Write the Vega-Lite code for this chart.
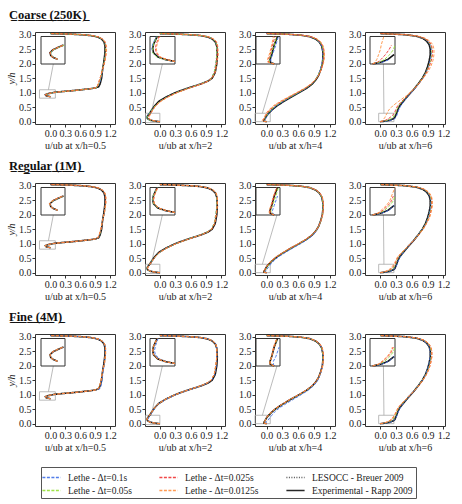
{
"$schema": "https://vega.github.io/schema/vega-lite/v6.json",
"background": "white",
"padding": {"left": 6, "top": 8, "right": 4, "bottom": 2},
"datasets": {
"zoom": [
{"p":0.5,"u":-0.22,"u1":0.1,"y":0.81,"y1":1.1},
{"p":2,"u":-0.28,"u1":0.0,"y":-0.03,"y1":0.29},
{"p":4,"u":-0.22,"u1":0.07,"y":0.0,"y1":0.29},
{"p":6,"u":-0.03,"u1":0.26,"y":0.0,"y1":0.29}
],
"conn": [
{"p":0.5,"u":-0.04,"u1":0.06,"y":1.1,"y1":2.0},
{"p":2,"u":-0.17,"u1":0.05,"y":0.29,"y1":2.0},
{"p":4,"u":-0.08,"u1":0.2,"y":0.29,"y1":2.0},
{"p":6,"u":0.07,"u1":0.06,"y":0.29,"y1":2.0}
],
"ref": [
{"p":0.5,"y":0.86,"E":0,"L":0},
{"p":0.5,"y":0.88,"E":-0.06,"L":-0.05},
{"p":0.5,"y":0.9,"E":-0.09,"L":-0.08},
{"p":0.5,"y":0.93,"E":-0.1,"L":-0.1},
{"p":0.5,"y":0.96,"E":-0.06,"L":-0.07},
{"p":0.5,"y":0.99,"E":0.02,"L":0},
{"p":0.5,"y":1.01,"E":0.08,"L":0.06},
{"p":0.5,"y":1.04,"E":0.25,"L":0.22},
{"p":0.5,"y":1.07,"E":0.45,"L":0.42},
{"p":0.5,"y":1.1,"E":0.62,"L":0.6},
{"p":0.5,"y":1.13,"E":0.78,"L":0.76},
{"p":0.5,"y":1.16,"E":0.9,"L":0.89},
{"p":0.5,"y":1.2,"E":0.97,"L":0.96},
{"p":0.5,"y":1.3,"E":1.0,"L":1.0},
{"p":0.5,"y":1.5,"E":1.03,"L":1.02},
{"p":0.5,"y":1.8,"E":1.05,"L":1.05},
{"p":0.5,"y":2.1,"E":1.08,"L":1.08},
{"p":0.5,"y":2.4,"E":1.1,"L":1.1},
{"p":0.5,"y":2.6,"E":1.1,"L":1.1},
{"p":0.5,"y":2.75,"E":1.08,"L":1.08},
{"p":0.5,"y":2.85,"E":1.03,"L":1.04},
{"p":0.5,"y":2.92,"E":0.95,"L":0.96},
{"p":0.5,"y":2.97,"E":0.8,"L":0.82},
{"p":0.5,"y":3.0,"E":0.6,"L":0.62},
{"p":0.5,"y":3.02,"E":0.35,"L":0.36},
{"p":0.5,"y":3.036,"E":0,"L":0},
{"p":2,"y":0,"E":0,"L":0},
{"p":2,"y":0.02,"E":-0.1,"L":-0.1},
{"p":2,"y":0.05,"E":-0.19,"L":-0.18},
{"p":2,"y":0.1,"E":-0.24,"L":-0.23},
{"p":2,"y":0.15,"E":-0.25,"L":-0.24},
{"p":2,"y":0.2,"E":-0.24,"L":-0.23},
{"p":2,"y":0.29,"E":-0.2,"L":-0.19},
{"p":2,"y":0.4,"E":-0.16,"L":-0.15},
{"p":2,"y":0.55,"E":-0.1,"L":-0.09},
{"p":2,"y":0.7,"E":-0.02,"L":-0.01},
{"p":2,"y":0.85,"E":0.12,"L":0.13},
{"p":2,"y":1.0,"E":0.3,"L":0.31},
{"p":2,"y":1.1,"E":0.45,"L":0.46},
{"p":2,"y":1.2,"E":0.62,"L":0.62},
{"p":2,"y":1.3,"E":0.8,"L":0.79},
{"p":2,"y":1.4,"E":0.94,"L":0.93},
{"p":2,"y":1.5,"E":1.02,"L":1.01},
{"p":2,"y":1.7,"E":1.08,"L":1.08},
{"p":2,"y":2.0,"E":1.11,"L":1.1},
{"p":2,"y":2.3,"E":1.12,"L":1.11},
{"p":2,"y":2.6,"E":1.11,"L":1.11},
{"p":2,"y":2.75,"E":1.08,"L":1.08},
{"p":2,"y":2.85,"E":1.02,"L":1.03},
{"p":2,"y":2.92,"E":0.93,"L":0.94},
{"p":2,"y":2.97,"E":0.78,"L":0.79},
{"p":2,"y":3.0,"E":0.55,"L":0.56},
{"p":2,"y":3.02,"E":0.3,"L":0.31},
{"p":2,"y":3.036,"E":0,"L":0},
{"p":4,"y":0,"E":0,"L":0},
{"p":4,"y":0.02,"E":-0.05,"L":-0.05},
{"p":4,"y":0.05,"E":-0.05,"L":-0.05},
{"p":4,"y":0.1,"E":-0.03,"L":-0.03},
{"p":4,"y":0.2,"E":0.0,"L":0.0},
{"p":4,"y":0.29,"E":0.04,"L":0.03},
{"p":4,"y":0.4,"E":0.1,"L":0.09},
{"p":4,"y":0.55,"E":0.2,"L":0.19},
{"p":4,"y":0.7,"E":0.33,"L":0.32},
{"p":4,"y":0.85,"E":0.47,"L":0.46},
{"p":4,"y":1.0,"E":0.62,"L":0.61},
{"p":4,"y":1.15,"E":0.76,"L":0.75},
{"p":4,"y":1.3,"E":0.87,"L":0.86},
{"p":4,"y":1.45,"E":0.94,"L":0.94},
{"p":4,"y":1.6,"E":0.99,"L":0.99},
{"p":4,"y":1.8,"E":1.03,"L":1.03},
{"p":4,"y":2.0,"E":1.06,"L":1.06},
{"p":4,"y":2.2,"E":1.07,"L":1.07},
{"p":4,"y":2.4,"E":1.07,"L":1.07},
{"p":4,"y":2.6,"E":1.05,"L":1.05},
{"p":4,"y":2.75,"E":1.0,"L":1.0},
{"p":4,"y":2.85,"E":0.93,"L":0.94},
{"p":4,"y":2.93,"E":0.82,"L":0.83},
{"p":4,"y":2.98,"E":0.65,"L":0.66},
{"p":4,"y":3.01,"E":0.42,"L":0.43},
{"p":4,"y":3.036,"E":0,"L":0},
{"p":6,"y":0,"E":0,"L":0},
{"p":6,"y":0.02,"E":0.1,"L":0.09},
{"p":6,"y":0.05,"E":0.18,"L":0.17},
{"p":6,"y":0.1,"E":0.25,"L":0.24},
{"p":6,"y":0.15,"E":0.28,"L":0.27},
{"p":6,"y":0.2,"E":0.29,"L":0.29},
{"p":6,"y":0.29,"E":0.31,"L":0.31},
{"p":6,"y":0.4,"E":0.33,"L":0.33},
{"p":6,"y":0.55,"E":0.37,"L":0.37},
{"p":6,"y":0.7,"E":0.44,"L":0.43},
{"p":6,"y":0.9,"E":0.53,"L":0.53},
{"p":6,"y":1.1,"E":0.63,"L":0.63},
{"p":6,"y":1.3,"E":0.72,"L":0.72},
{"p":6,"y":1.5,"E":0.8,"L":0.8},
{"p":6,"y":1.7,"E":0.86,"L":0.86},
{"p":6,"y":1.9,"E":0.9,"L":0.9},
{"p":6,"y":2.1,"E":0.93,"L":0.93},
{"p":6,"y":2.3,"E":0.95,"L":0.95},
{"p":6,"y":2.5,"E":0.95,"L":0.95},
{"p":6,"y":2.65,"E":0.93,"L":0.93},
{"p":6,"y":2.78,"E":0.88,"L":0.88},
{"p":6,"y":2.88,"E":0.8,"L":0.81},
{"p":6,"y":2.95,"E":0.68,"L":0.69},
{"p":6,"y":3.0,"E":0.45,"L":0.46},
{"p":6,"y":3.036,"E":0,"L":0}
],
"lethe": [
{"m":"C","p":0.5,"y":0.86,"a":0,"b":0,"c":0,"d":0},
{"m":"C","p":0.5,"y":0.88,"a":-0.05,"b":-0.05,"c":-0.06,"d":-0.06},
{"m":"C","p":0.5,"y":0.9,"a":-0.08,"b":-0.08,"c":-0.09,"d":-0.09},
{"m":"C","p":0.5,"y":0.93,"a":-0.09,"b":-0.09,"c":-0.1,"d":-0.1},
{"m":"C","p":0.5,"y":0.96,"a":-0.05,"b":-0.05,"c":-0.06,"d":-0.06},
{"m":"C","p":0.5,"y":0.99,"a":0.03,"b":0.03,"c":0.02,"d":0.02},
{"m":"C","p":0.5,"y":1.01,"a":0.1,"b":0.1,"c":0.09,"d":0.08},
{"m":"C","p":0.5,"y":1.04,"a":0.28,"b":0.27,"c":0.26,"d":0.26},
{"m":"C","p":0.5,"y":1.07,"a":0.48,"b":0.47,"c":0.46,"d":0.46},
{"m":"C","p":0.5,"y":1.1,"a":0.65,"b":0.64,"c":0.63,"d":0.63},
{"m":"C","p":0.5,"y":1.13,"a":0.8,"b":0.79,"c":0.79,"d":0.78},
{"m":"C","p":0.5,"y":1.16,"a":0.9,"b":0.9,"c":0.9,"d":0.9},
{"m":"C","p":0.5,"y":1.2,"a":0.95,"b":0.95,"c":0.94,"d":0.94},
{"m":"C","p":0.5,"y":1.3,"a":0.98,"b":0.97,"c":0.96,"d":0.96},
{"m":"C","p":0.5,"y":1.5,"a":1.02,"b":1.01,"c":1.0,"d":1.0},
{"m":"C","p":0.5,"y":1.8,"a":1.06,"b":1.05,"c":1.05,"d":1.05},
{"m":"C","p":0.5,"y":2.1,"a":1.09,"b":1.09,"c":1.1,"d":1.1},
{"m":"C","p":0.5,"y":2.4,"a":1.11,"b":1.11,"c":1.12,"d":1.13},
{"m":"C","p":0.5,"y":2.6,"a":1.11,"b":1.11,"c":1.12,"d":1.13},
{"m":"C","p":0.5,"y":2.75,"a":1.09,"b":1.09,"c":1.1,"d":1.1},
{"m":"C","p":0.5,"y":2.85,"a":1.04,"b":1.04,"c":1.05,"d":1.05},
{"m":"C","p":0.5,"y":2.92,"a":0.96,"b":0.96,"c":0.97,"d":0.97},
{"m":"C","p":0.5,"y":2.97,"a":0.82,"b":0.82,"c":0.83,"d":0.83},
{"m":"C","p":0.5,"y":3.0,"a":0.62,"b":0.62,"c":0.63,"d":0.63},
{"m":"C","p":0.5,"y":3.02,"a":0.36,"b":0.36,"c":0.37,"d":0.37},
{"m":"C","p":0.5,"y":3.036,"a":0,"b":0,"c":0,"d":0},
{"m":"R","p":0.5,"y":0.86,"a":0,"b":0,"c":0,"d":0},
{"m":"R","p":0.5,"y":0.88,"a":-0.06,"b":-0.06,"c":-0.06,"d":-0.06},
{"m":"R","p":0.5,"y":0.9,"a":-0.09,"b":-0.09,"c":-0.09,"d":-0.09},
{"m":"R","p":0.5,"y":0.93,"a":-0.1,"b":-0.1,"c":-0.1,"d":-0.11},
{"m":"R","p":0.5,"y":0.96,"a":-0.06,"b":-0.06,"c":-0.07,"d":-0.07},
{"m":"R","p":0.5,"y":0.99,"a":0.02,"b":0.02,"c":0.01,"d":0.01},
{"m":"R","p":0.5,"y":1.01,"a":0.09,"b":0.09,"c":0.08,"d":0.08},
{"m":"R","p":0.5,"y":1.04,"a":0.26,"b":0.26,"c":0.25,"d":0.25},
{"m":"R","p":0.5,"y":1.07,"a":0.46,"b":0.46,"c":0.45,"d":0.45},
{"m":"R","p":0.5,"y":1.1,"a":0.63,"b":0.63,"c":0.62,"d":0.62},
{"m":"R","p":0.5,"y":1.13,"a":0.79,"b":0.79,"c":0.78,"d":0.78},
{"m":"R","p":0.5,"y":1.16,"a":0.9,"b":0.9,"c":0.9,"d":0.9},
{"m":"R","p":0.5,"y":1.2,"a":0.96,"b":0.96,"c":0.96,"d":0.95},
{"m":"R","p":0.5,"y":1.3,"a":0.99,"b":0.99,"c":0.98,"d":0.98},
{"m":"R","p":0.5,"y":1.5,"a":1.02,"b":1.02,"c":1.02,"d":1.01},
{"m":"R","p":0.5,"y":1.8,"a":1.05,"b":1.05,"c":1.05,"d":1.05},
{"m":"R","p":0.5,"y":2.1,"a":1.09,"b":1.09,"c":1.09,"d":1.09},
{"m":"R","p":0.5,"y":2.4,"a":1.11,"b":1.11,"c":1.11,"d":1.12},
{"m":"R","p":0.5,"y":2.6,"a":1.11,"b":1.11,"c":1.11,"d":1.12},
{"m":"R","p":0.5,"y":2.75,"a":1.09,"b":1.09,"c":1.09,"d":1.1},
{"m":"R","p":0.5,"y":2.85,"a":1.04,"b":1.04,"c":1.04,"d":1.05},
{"m":"R","p":0.5,"y":2.92,"a":0.96,"b":0.96,"c":0.96,"d":0.97},
{"m":"R","p":0.5,"y":2.97,"a":0.82,"b":0.82,"c":0.82,"d":0.83},
{"m":"R","p":0.5,"y":3.0,"a":0.62,"b":0.62,"c":0.62,"d":0.63},
{"m":"R","p":0.5,"y":3.02,"a":0.36,"b":0.36,"c":0.36,"d":0.37},
{"m":"R","p":0.5,"y":3.036,"a":0,"b":0,"c":0,"d":0},
{"m":"F","p":0.5,"y":0.86,"a":0,"b":0,"c":0,"d":0},
{"m":"F","p":0.5,"y":0.88,"a":-0.06,"b":-0.06,"c":-0.06,"d":-0.06},
{"m":"F","p":0.5,"y":0.9,"a":-0.09,"b":-0.09,"c":-0.09,"d":-0.09},
{"m":"F","p":0.5,"y":0.93,"a":-0.1,"b":-0.1,"c":-0.1,"d":-0.1},
{"m":"F","p":0.5,"y":0.96,"a":-0.06,"b":-0.06,"c":-0.06,"d":-0.07},
{"m":"F","p":0.5,"y":0.99,"a":0.02,"b":0.02,"c":0.02,"d":0.01},
{"m":"F","p":0.5,"y":1.01,"a":0.09,"b":0.08,"c":0.08,"d":0.08},
{"m":"F","p":0.5,"y":1.04,"a":0.27,"b":0.26,"c":0.26,"d":0.25},
{"m":"F","p":0.5,"y":1.07,"a":0.47,"b":0.46,"c":0.46,"d":0.45},
{"m":"F","p":0.5,"y":1.1,"a":0.64,"b":0.63,"c":0.63,"d":0.62},
{"m":"F","p":0.5,"y":1.13,"a":0.8,"b":0.79,"c":0.79,"d":0.78},
{"m":"F","p":0.5,"y":1.16,"a":0.92,"b":0.9,"c":0.9,"d":0.9},
{"m":"F","p":0.5,"y":1.2,"a":0.99,"b":0.96,"c":0.96,"d":0.96},
{"m":"F","p":0.5,"y":1.3,"a":1.02,"b":0.99,"c":0.99,"d":0.99},
{"m":"F","p":0.5,"y":1.5,"a":1.04,"b":1.02,"c":1.02,"d":1.02},
{"m":"F","p":0.5,"y":1.8,"a":1.06,"b":1.05,"c":1.05,"d":1.05},
{"m":"F","p":0.5,"y":2.1,"a":1.09,"b":1.09,"c":1.09,"d":1.09},
{"m":"F","p":0.5,"y":2.4,"a":1.11,"b":1.11,"c":1.11,"d":1.11},
{"m":"F","p":0.5,"y":2.6,"a":1.11,"b":1.11,"c":1.11,"d":1.11},
{"m":"F","p":0.5,"y":2.75,"a":1.09,"b":1.09,"c":1.09,"d":1.09},
{"m":"F","p":0.5,"y":2.85,"a":1.04,"b":1.04,"c":1.04,"d":1.04},
{"m":"F","p":0.5,"y":2.92,"a":0.96,"b":0.96,"c":0.96,"d":0.96},
{"m":"F","p":0.5,"y":2.97,"a":0.82,"b":0.82,"c":0.82,"d":0.82},
{"m":"F","p":0.5,"y":3.0,"a":0.62,"b":0.62,"c":0.62,"d":0.62},
{"m":"F","p":0.5,"y":3.02,"a":0.36,"b":0.36,"c":0.36,"d":0.36},
{"m":"F","p":0.5,"y":3.036,"a":0,"b":0,"c":0,"d":0},
{"m":"C","p":2,"y":0,"a":0,"b":0,"c":0,"d":0},
{"m":"C","p":2,"y":0.02,"a":-0.11,"b":-0.11,"c":-0.09,"d":-0.08},
{"m":"C","p":2,"y":0.05,"a":-0.2,"b":-0.2,"c":-0.17,"d":-0.16},
{"m":"C","p":2,"y":0.1,"a":-0.25,"b":-0.25,"c":-0.21,"d":-0.2},
{"m":"C","p":2,"y":0.15,"a":-0.26,"b":-0.25,"c":-0.22,"d":-0.21},
{"m":"C","p":2,"y":0.2,"a":-0.25,"b":-0.24,"c":-0.21,"d":-0.2},
{"m":"C","p":2,"y":0.29,"a":-0.21,"b":-0.2,"c":-0.18,"d":-0.17},
{"m":"C","p":2,"y":0.4,"a":-0.16,"b":-0.16,"c":-0.14,"d":-0.14},
{"m":"C","p":2,"y":0.55,"a":-0.09,"b":-0.09,"c":-0.08,"d":-0.08},
{"m":"C","p":2,"y":0.7,"a":0.0,"b":0.0,"c":0.01,"d":0.02},
{"m":"C","p":2,"y":0.85,"a":0.14,"b":0.14,"c":0.15,"d":0.16},
{"m":"C","p":2,"y":1.0,"a":0.32,"b":0.32,"c":0.33,"d":0.34},
{"m":"C","p":2,"y":1.1,"a":0.47,"b":0.47,"c":0.48,"d":0.49},
{"m":"C","p":2,"y":1.2,"a":0.63,"b":0.63,"c":0.64,"d":0.65},
{"m":"C","p":2,"y":1.3,"a":0.8,"b":0.8,"c":0.81,"d":0.82},
{"m":"C","p":2,"y":1.4,"a":0.93,"b":0.93,"c":0.94,"d":0.95},
{"m":"C","p":2,"y":1.5,"a":1.0,"b":1.0,"c":1.01,"d":1.02},
{"m":"C","p":2,"y":1.7,"a":1.06,"b":1.06,"c":1.07,"d":1.08},
{"m":"C","p":2,"y":2.0,"a":1.09,"b":1.09,"c":1.1,"d":1.11},
{"m":"C","p":2,"y":2.3,"a":1.11,"b":1.11,"c":1.12,"d":1.14},
{"m":"C","p":2,"y":2.6,"a":1.11,"b":1.11,"c":1.12,"d":1.13},
{"m":"C","p":2,"y":2.75,"a":1.09,"b":1.09,"c":1.1,"d":1.11},
{"m":"C","p":2,"y":2.85,"a":1.03,"b":1.03,"c":1.04,"d":1.05},
{"m":"C","p":2,"y":2.92,"a":0.94,"b":0.94,"c":0.95,"d":0.96},
{"m":"C","p":2,"y":2.97,"a":0.79,"b":0.79,"c":0.8,"d":0.81},
{"m":"C","p":2,"y":3.0,"a":0.56,"b":0.56,"c":0.57,"d":0.58},
{"m":"C","p":2,"y":3.02,"a":0.31,"b":0.31,"c":0.32,"d":0.32},
{"m":"C","p":2,"y":3.036,"a":0,"b":0,"c":0,"d":0},
{"m":"R","p":2,"y":0,"a":0,"b":0,"c":0,"d":0},
{"m":"R","p":2,"y":0.02,"a":-0.1,"b":-0.1,"c":-0.1,"d":-0.09},
{"m":"R","p":2,"y":0.05,"a":-0.19,"b":-0.19,"c":-0.18,"d":-0.18},
{"m":"R","p":2,"y":0.1,"a":-0.24,"b":-0.24,"c":-0.23,"d":-0.23},
{"m":"R","p":2,"y":0.15,"a":-0.25,"b":-0.25,"c":-0.24,"d":-0.24},
{"m":"R","p":2,"y":0.2,"a":-0.24,"b":-0.24,"c":-0.23,"d":-0.23},
{"m":"R","p":2,"y":0.29,"a":-0.2,"b":-0.2,"c":-0.2,"d":-0.19},
{"m":"R","p":2,"y":0.4,"a":-0.16,"b":-0.16,"c":-0.15,"d":-0.15},
{"m":"R","p":2,"y":0.55,"a":-0.09,"b":-0.09,"c":-0.09,"d":-0.09},
{"m":"R","p":2,"y":0.7,"a":-0.01,"b":-0.01,"c":-0.01,"d":0.0},
{"m":"R","p":2,"y":0.85,"a":0.13,"b":0.13,"c":0.13,"d":0.14},
{"m":"R","p":2,"y":1.0,"a":0.31,"b":0.31,"c":0.31,"d":0.32},
{"m":"R","p":2,"y":1.1,"a":0.46,"b":0.46,"c":0.46,"d":0.47},
{"m":"R","p":2,"y":1.2,"a":0.62,"b":0.62,"c":0.63,"d":0.63},
{"m":"R","p":2,"y":1.3,"a":0.79,"b":0.79,"c":0.8,"d":0.8},
{"m":"R","p":2,"y":1.4,"a":0.92,"b":0.92,"c":0.93,"d":0.93},
{"m":"R","p":2,"y":1.5,"a":1.0,"b":1.0,"c":1.01,"d":1.01},
{"m":"R","p":2,"y":1.7,"a":1.06,"b":1.06,"c":1.07,"d":1.07},
{"m":"R","p":2,"y":2.0,"a":1.09,"b":1.09,"c":1.1,"d":1.1},
{"m":"R","p":2,"y":2.3,"a":1.11,"b":1.11,"c":1.12,"d":1.12},
{"m":"R","p":2,"y":2.6,"a":1.11,"b":1.11,"c":1.12,"d":1.12},
{"m":"R","p":2,"y":2.75,"a":1.09,"b":1.09,"c":1.09,"d":1.1},
{"m":"R","p":2,"y":2.85,"a":1.03,"b":1.03,"c":1.03,"d":1.04},
{"m":"R","p":2,"y":2.92,"a":0.94,"b":0.94,"c":0.94,"d":0.95},
{"m":"R","p":2,"y":2.97,"a":0.79,"b":0.79,"c":0.79,"d":0.8},
{"m":"R","p":2,"y":3.0,"a":0.56,"b":0.56,"c":0.56,"d":0.57},
{"m":"R","p":2,"y":3.02,"a":0.31,"b":0.31,"c":0.31,"d":0.31},
{"m":"R","p":2,"y":3.036,"a":0,"b":0,"c":0,"d":0},
{"m":"F","p":2,"y":0,"a":0,"b":0,"c":0,"d":0},
{"m":"F","p":2,"y":0.02,"a":-0.09,"b":-0.1,"c":-0.1,"d":-0.1},
{"m":"F","p":2,"y":0.05,"a":-0.17,"b":-0.19,"c":-0.19,"d":-0.19},
{"m":"F","p":2,"y":0.1,"a":-0.22,"b":-0.24,"c":-0.24,"d":-0.24},
{"m":"F","p":2,"y":0.15,"a":-0.23,"b":-0.25,"c":-0.25,"d":-0.25},
{"m":"F","p":2,"y":0.2,"a":-0.22,"b":-0.24,"c":-0.24,"d":-0.24},
{"m":"F","p":2,"y":0.29,"a":-0.19,"b":-0.2,"c":-0.2,"d":-0.2},
{"m":"F","p":2,"y":0.4,"a":-0.15,"b":-0.16,"c":-0.16,"d":-0.16},
{"m":"F","p":2,"y":0.55,"a":-0.09,"b":-0.1,"c":-0.1,"d":-0.1},
{"m":"F","p":2,"y":0.7,"a":-0.01,"b":-0.02,"c":-0.02,"d":-0.02},
{"m":"F","p":2,"y":0.85,"a":0.13,"b":0.12,"c":0.12,"d":0.12},
{"m":"F","p":2,"y":1.0,"a":0.31,"b":0.3,"c":0.3,"d":0.3},
{"m":"F","p":2,"y":1.1,"a":0.46,"b":0.45,"c":0.45,"d":0.45},
{"m":"F","p":2,"y":1.2,"a":0.63,"b":0.62,"c":0.62,"d":0.62},
{"m":"F","p":2,"y":1.3,"a":0.8,"b":0.79,"c":0.79,"d":0.79},
{"m":"F","p":2,"y":1.4,"a":0.93,"b":0.92,"c":0.92,"d":0.92},
{"m":"F","p":2,"y":1.5,"a":1.01,"b":1.0,"c":1.0,"d":1.0},
{"m":"F","p":2,"y":1.7,"a":1.07,"b":1.06,"c":1.06,"d":1.06},
{"m":"F","p":2,"y":2.0,"a":1.1,"b":1.09,"c":1.09,"d":1.09},
{"m":"F","p":2,"y":2.3,"a":1.11,"b":1.11,"c":1.11,"d":1.11},
{"m":"F","p":2,"y":2.6,"a":1.11,"b":1.11,"c":1.11,"d":1.11},
{"m":"F","p":2,"y":2.75,"a":1.09,"b":1.09,"c":1.09,"d":1.09},
{"m":"F","p":2,"y":2.85,"a":1.03,"b":1.03,"c":1.03,"d":1.03},
{"m":"F","p":2,"y":2.92,"a":0.94,"b":0.94,"c":0.94,"d":0.94},
{"m":"F","p":2,"y":2.97,"a":0.79,"b":0.79,"c":0.79,"d":0.79},
{"m":"F","p":2,"y":3.0,"a":0.56,"b":0.56,"c":0.56,"d":0.56},
{"m":"F","p":2,"y":3.02,"a":0.31,"b":0.31,"c":0.31,"d":0.31},
{"m":"F","p":2,"y":3.036,"a":0,"b":0,"c":0,"d":0},
{"m":"C","p":4,"y":0,"a":0,"b":0,"c":0,"d":0},
{"m":"C","p":4,"y":0.02,"a":-0.04,"b":-0.06,"c":-0.07,"d":-0.08},
{"m":"C","p":4,"y":0.05,"a":-0.04,"b":-0.06,"c":-0.07,"d":-0.08},
{"m":"C","p":4,"y":0.1,"a":-0.02,"b":-0.04,"c":-0.05,"d":-0.06},
{"m":"C","p":4,"y":0.2,"a":0.02,"b":0.0,"c":-0.02,"d":-0.03},
{"m":"C","p":4,"y":0.29,"a":0.05,"b":0.03,"c":0.01,"d":-0.01},
{"m":"C","p":4,"y":0.4,"a":0.1,"b":0.08,"c":0.06,"d":0.04},
{"m":"C","p":4,"y":0.55,"a":0.19,"b":0.17,"c":0.15,"d":0.13},
{"m":"C","p":4,"y":0.7,"a":0.32,"b":0.3,"c":0.28,"d":0.26},
{"m":"C","p":4,"y":0.85,"a":0.46,"b":0.45,"c":0.43,"d":0.41},
{"m":"C","p":4,"y":1.0,"a":0.61,"b":0.6,"c":0.58,"d":0.57},
{"m":"C","p":4,"y":1.15,"a":0.75,"b":0.74,"c":0.73,"d":0.72},
{"m":"C","p":4,"y":1.3,"a":0.86,"b":0.86,"c":0.85,"d":0.84},
{"m":"C","p":4,"y":1.45,"a":0.93,"b":0.93,"c":0.93,"d":0.93},
{"m":"C","p":4,"y":1.6,"a":0.98,"b":0.98,"c":0.99,"d":0.99},
{"m":"C","p":4,"y":1.8,"a":1.02,"b":1.03,"c":1.04,"d":1.04},
{"m":"C","p":4,"y":2.0,"a":1.05,"b":1.06,"c":1.07,"d":1.08},
{"m":"C","p":4,"y":2.2,"a":1.07,"b":1.08,"c":1.09,"d":1.1},
{"m":"C","p":4,"y":2.4,"a":1.07,"b":1.08,"c":1.09,"d":1.1},
{"m":"C","p":4,"y":2.6,"a":1.05,"b":1.06,"c":1.07,"d":1.08},
{"m":"C","p":4,"y":2.75,"a":1.0,"b":1.01,"c":1.02,"d":1.03},
{"m":"C","p":4,"y":2.85,"a":0.93,"b":0.94,"c":0.95,"d":0.96},
{"m":"C","p":4,"y":2.93,"a":0.82,"b":0.83,"c":0.84,"d":0.85},
{"m":"C","p":4,"y":2.98,"a":0.65,"b":0.66,"c":0.67,"d":0.68},
{"m":"C","p":4,"y":3.01,"a":0.42,"b":0.43,"c":0.43,"d":0.44},
{"m":"C","p":4,"y":3.036,"a":0,"b":0,"c":0,"d":0},
{"m":"R","p":4,"y":0,"a":0,"b":0,"c":0,"d":0},
{"m":"R","p":4,"y":0.02,"a":-0.02,"b":-0.04,"c":-0.05,"d":-0.06},
{"m":"R","p":4,"y":0.05,"a":-0.02,"b":-0.04,"c":-0.05,"d":-0.06},
{"m":"R","p":4,"y":0.1,"a":0.0,"b":-0.02,"c":-0.03,"d":-0.04},
{"m":"R","p":4,"y":0.2,"a":0.04,"b":0.02,"c":0.0,"d":-0.01},
{"m":"R","p":4,"y":0.29,"a":0.08,"b":0.05,"c":0.03,"d":0.03},
{"m":"R","p":4,"y":0.4,"a":0.13,"b":0.1,"c":0.09,"d":0.08},
{"m":"R","p":4,"y":0.55,"a":0.23,"b":0.2,"c":0.19,"d":0.18},
{"m":"R","p":4,"y":0.7,"a":0.36,"b":0.33,"c":0.32,"d":0.31},
{"m":"R","p":4,"y":0.85,"a":0.5,"b":0.47,"c":0.46,"d":0.45},
{"m":"R","p":4,"y":1.0,"a":0.65,"b":0.62,"c":0.61,"d":0.6},
{"m":"R","p":4,"y":1.15,"a":0.78,"b":0.76,"c":0.75,"d":0.74},
{"m":"R","p":4,"y":1.3,"a":0.89,"b":0.87,"c":0.86,"d":0.86},
{"m":"R","p":4,"y":1.45,"a":0.95,"b":0.94,"c":0.94,"d":0.94},
{"m":"R","p":4,"y":1.6,"a":0.99,"b":0.99,"c":0.99,"d":0.99},
{"m":"R","p":4,"y":1.8,"a":1.03,"b":1.03,"c":1.03,"d":1.04},
{"m":"R","p":4,"y":2.0,"a":1.06,"b":1.06,"c":1.06,"d":1.07},
{"m":"R","p":4,"y":2.2,"a":1.07,"b":1.07,"c":1.08,"d":1.08},
{"m":"R","p":4,"y":2.4,"a":1.07,"b":1.07,"c":1.08,"d":1.08},
{"m":"R","p":4,"y":2.6,"a":1.05,"b":1.05,"c":1.06,"d":1.06},
{"m":"R","p":4,"y":2.75,"a":1.0,"b":1.0,"c":1.01,"d":1.01},
{"m":"R","p":4,"y":2.85,"a":0.93,"b":0.93,"c":0.94,"d":0.94},
{"m":"R","p":4,"y":2.93,"a":0.82,"b":0.82,"c":0.83,"d":0.83},
{"m":"R","p":4,"y":2.98,"a":0.65,"b":0.65,"c":0.66,"d":0.66},
{"m":"R","p":4,"y":3.01,"a":0.42,"b":0.42,"c":0.43,"d":0.43},
{"m":"R","p":4,"y":3.036,"a":0,"b":0,"c":0,"d":0},
{"m":"F","p":4,"y":0,"a":0,"b":0,"c":0,"d":0},
{"m":"F","p":4,"y":0.02,"a":-0.01,"b":-0.05,"c":-0.05,"d":-0.05},
{"m":"F","p":4,"y":0.05,"a":-0.01,"b":-0.05,"c":-0.05,"d":-0.05},
{"m":"F","p":4,"y":0.1,"a":0.02,"b":-0.03,"c":-0.03,"d":-0.03},
{"m":"F","p":4,"y":0.2,"a":0.06,"b":0.0,"c":0.0,"d":-0.01},
{"m":"F","p":4,"y":0.29,"a":0.1,"b":0.04,"c":0.03,"d":0.03},
{"m":"F","p":4,"y":0.4,"a":0.15,"b":0.1,"c":0.09,"d":0.09},
{"m":"F","p":4,"y":0.55,"a":0.25,"b":0.2,"c":0.19,"d":0.19},
{"m":"F","p":4,"y":0.7,"a":0.38,"b":0.33,"c":0.32,"d":0.32},
{"m":"F","p":4,"y":0.85,"a":0.52,"b":0.47,"c":0.46,"d":0.46},
{"m":"F","p":4,"y":1.0,"a":0.66,"b":0.62,"c":0.61,"d":0.61},
{"m":"F","p":4,"y":1.15,"a":0.79,"b":0.76,"c":0.75,"d":0.75},
{"m":"F","p":4,"y":1.3,"a":0.89,"b":0.87,"c":0.86,"d":0.86},
{"m":"F","p":4,"y":1.45,"a":0.96,"b":0.94,"c":0.94,"d":0.94},
{"m":"F","p":4,"y":1.6,"a":1.0,"b":0.99,"c":0.99,"d":0.99},
{"m":"F","p":4,"y":1.8,"a":1.04,"b":1.03,"c":1.03,"d":1.04},
{"m":"F","p":4,"y":2.0,"a":1.06,"b":1.06,"c":1.06,"d":1.07},
{"m":"F","p":4,"y":2.2,"a":1.07,"b":1.07,"c":1.08,"d":1.08},
{"m":"F","p":4,"y":2.4,"a":1.07,"b":1.07,"c":1.08,"d":1.08},
{"m":"F","p":4,"y":2.6,"a":1.05,"b":1.05,"c":1.06,"d":1.06},
{"m":"F","p":4,"y":2.75,"a":1.0,"b":1.0,"c":1.01,"d":1.01},
{"m":"F","p":4,"y":2.85,"a":0.93,"b":0.93,"c":0.94,"d":0.94},
{"m":"F","p":4,"y":2.93,"a":0.82,"b":0.82,"c":0.83,"d":0.83},
{"m":"F","p":4,"y":2.98,"a":0.65,"b":0.65,"c":0.66,"d":0.66},
{"m":"F","p":4,"y":3.01,"a":0.42,"b":0.42,"c":0.43,"d":0.43},
{"m":"F","p":4,"y":3.036,"a":0,"b":0,"c":0,"d":0},
{"m":"C","p":6,"y":0,"a":0,"b":0,"c":0,"d":0},
{"m":"C","p":6,"y":0.02,"a":0.12,"b":0.08,"c":0.06,"d":0.03},
{"m":"C","p":6,"y":0.05,"a":0.2,"b":0.14,"c":0.1,"d":0.05},
{"m":"C","p":6,"y":0.1,"a":0.27,"b":0.2,"c":0.15,"d":0.07},
{"m":"C","p":6,"y":0.15,"a":0.3,"b":0.24,"c":0.19,"d":0.09},
{"m":"C","p":6,"y":0.2,"a":0.31,"b":0.26,"c":0.22,"d":0.1},
{"m":"C","p":6,"y":0.29,"a":0.33,"b":0.29,"c":0.27,"d":0.13},
{"m":"C","p":6,"y":0.4,"a":0.35,"b":0.31,"c":0.29,"d":0.16},
{"m":"C","p":6,"y":0.55,"a":0.39,"b":0.35,"c":0.33,"d":0.24},
{"m":"C","p":6,"y":0.7,"a":0.45,"b":0.42,"c":0.41,"d":0.35},
{"m":"C","p":6,"y":0.9,"a":0.54,"b":0.52,"c":0.52,"d":0.5},
{"m":"C","p":6,"y":1.1,"a":0.64,"b":0.63,"c":0.63,"d":0.62},
{"m":"C","p":6,"y":1.3,"a":0.73,"b":0.72,"c":0.73,"d":0.73},
{"m":"C","p":6,"y":1.5,"a":0.81,"b":0.8,"c":0.81,"d":0.82},
{"m":"C","p":6,"y":1.7,"a":0.87,"b":0.87,"c":0.88,"d":0.9},
{"m":"C","p":6,"y":1.9,"a":0.92,"b":0.92,"c":0.93,"d":0.96},
{"m":"C","p":6,"y":2.1,"a":0.95,"b":0.96,"c":0.97,"d":1.0},
{"m":"C","p":6,"y":2.3,"a":0.97,"b":0.98,"c":0.99,"d":1.02},
{"m":"C","p":6,"y":2.5,"a":0.97,"b":0.98,"c":0.99,"d":1.02},
{"m":"C","p":6,"y":2.65,"a":0.95,"b":0.96,"c":0.97,"d":1.0},
{"m":"C","p":6,"y":2.78,"a":0.9,"b":0.91,"c":0.92,"d":0.94},
{"m":"C","p":6,"y":2.88,"a":0.81,"b":0.82,"c":0.83,"d":0.85},
{"m":"C","p":6,"y":2.95,"a":0.69,"b":0.69,"c":0.7,"d":0.72},
{"m":"C","p":6,"y":3.0,"a":0.46,"b":0.46,"c":0.47,"d":0.48},
{"m":"C","p":6,"y":3.036,"a":0,"b":0,"c":0,"d":0},
{"m":"R","p":6,"y":0,"a":0,"b":0,"c":0,"d":0},
{"m":"R","p":6,"y":0.02,"a":0.11,"b":0.08,"c":0.07,"d":0.06},
{"m":"R","p":6,"y":0.05,"a":0.19,"b":0.14,"c":0.12,"d":0.1},
{"m":"R","p":6,"y":0.1,"a":0.25,"b":0.2,"c":0.18,"d":0.16},
{"m":"R","p":6,"y":0.15,"a":0.28,"b":0.24,"c":0.22,"d":0.2},
{"m":"R","p":6,"y":0.2,"a":0.3,"b":0.26,"c":0.24,"d":0.22},
{"m":"R","p":6,"y":0.29,"a":0.32,"b":0.29,"c":0.28,"d":0.26},
{"m":"R","p":6,"y":0.4,"a":0.34,"b":0.31,"c":0.3,"d":0.29},
{"m":"R","p":6,"y":0.55,"a":0.38,"b":0.35,"c":0.34,"d":0.33},
{"m":"R","p":6,"y":0.7,"a":0.44,"b":0.42,"c":0.41,"d":0.41},
{"m":"R","p":6,"y":0.9,"a":0.53,"b":0.52,"c":0.52,"d":0.52},
{"m":"R","p":6,"y":1.1,"a":0.63,"b":0.63,"c":0.63,"d":0.63},
{"m":"R","p":6,"y":1.3,"a":0.72,"b":0.72,"c":0.73,"d":0.73},
{"m":"R","p":6,"y":1.5,"a":0.8,"b":0.8,"c":0.81,"d":0.82},
{"m":"R","p":6,"y":1.7,"a":0.87,"b":0.87,"c":0.88,"d":0.88},
{"m":"R","p":6,"y":1.9,"a":0.91,"b":0.92,"c":0.93,"d":0.94},
{"m":"R","p":6,"y":2.1,"a":0.94,"b":0.95,"c":0.96,"d":0.97},
{"m":"R","p":6,"y":2.3,"a":0.96,"b":0.97,"c":0.98,"d":0.99},
{"m":"R","p":6,"y":2.5,"a":0.96,"b":0.97,"c":0.98,"d":0.99},
{"m":"R","p":6,"y":2.65,"a":0.94,"b":0.95,"c":0.96,"d":0.97},
{"m":"R","p":6,"y":2.78,"a":0.89,"b":0.9,"c":0.91,"d":0.92},
{"m":"R","p":6,"y":2.88,"a":0.81,"b":0.82,"c":0.83,"d":0.84},
{"m":"R","p":6,"y":2.95,"a":0.69,"b":0.69,"c":0.7,"d":0.71},
{"m":"R","p":6,"y":3.0,"a":0.46,"b":0.46,"c":0.47,"d":0.47},
{"m":"R","p":6,"y":3.036,"a":0,"b":0,"c":0,"d":0},
{"m":"F","p":6,"y":0,"a":0,"b":0,"c":0,"d":0},
{"m":"F","p":6,"y":0.02,"a":0.11,"b":0.08,"c":0.07,"d":0.07},
{"m":"F","p":6,"y":0.05,"a":0.19,"b":0.14,"c":0.12,"d":0.11},
{"m":"F","p":6,"y":0.1,"a":0.25,"b":0.2,"c":0.18,"d":0.17},
{"m":"F","p":6,"y":0.15,"a":0.28,"b":0.24,"c":0.22,"d":0.21},
{"m":"F","p":6,"y":0.2,"a":0.3,"b":0.26,"c":0.24,"d":0.23},
{"m":"F","p":6,"y":0.29,"a":0.32,"b":0.29,"c":0.27,"d":0.27},
{"m":"F","p":6,"y":0.4,"a":0.34,"b":0.31,"c":0.3,"d":0.3},
{"m":"F","p":6,"y":0.55,"a":0.38,"b":0.35,"c":0.34,"d":0.34},
{"m":"F","p":6,"y":0.7,"a":0.44,"b":0.42,"c":0.41,"d":0.41},
{"m":"F","p":6,"y":0.9,"a":0.53,"b":0.52,"c":0.52,"d":0.52},
{"m":"F","p":6,"y":1.1,"a":0.63,"b":0.63,"c":0.63,"d":0.63},
{"m":"F","p":6,"y":1.3,"a":0.72,"b":0.72,"c":0.73,"d":0.73},
{"m":"F","p":6,"y":1.5,"a":0.8,"b":0.8,"c":0.81,"d":0.81},
{"m":"F","p":6,"y":1.7,"a":0.86,"b":0.87,"c":0.88,"d":0.88},
{"m":"F","p":6,"y":1.9,"a":0.9,"b":0.92,"c":0.93,"d":0.93},
{"m":"F","p":6,"y":2.1,"a":0.93,"b":0.95,"c":0.96,"d":0.96},
{"m":"F","p":6,"y":2.3,"a":0.95,"b":0.97,"c":0.98,"d":0.98},
{"m":"F","p":6,"y":2.5,"a":0.95,"b":0.97,"c":0.98,"d":0.98},
{"m":"F","p":6,"y":2.65,"a":0.93,"b":0.95,"c":0.96,"d":0.96},
{"m":"F","p":6,"y":2.78,"a":0.88,"b":0.9,"c":0.91,"d":0.91},
{"m":"F","p":6,"y":2.88,"a":0.8,"b":0.82,"c":0.83,"d":0.83},
{"m":"F","p":6,"y":2.95,"a":0.68,"b":0.69,"c":0.7,"d":0.7},
{"m":"F","p":6,"y":3.0,"a":0.45,"b":0.46,"c":0.47,"d":0.47},
{"m":"F","p":6,"y":3.036,"a":0,"b":0,"c":0,"d":0}
]
},
"spacing": 8,
"vconcat": [
{"title": "C\u0332o\u0332a\u0332r\u0332s\u0332e\u0332 \u0332(\u03322\u03325\u03320\u0332K\u0332)\u0332", "spacing": 30, "bounds": "flush", "hconcat": [
{"width":80,"height":92,"resolve":{"scale":{"x":"independent","y":"independent"}},"layer":[
 {"encoding":{"x":{"field":"u","type":"quantitative","scale":{"domain":[-0.31,1.3],"nice":false,"zero":false},"axis":{"values":[0,0.3,0.6,0.9,1.2],"format":".1f"},"title":"u/ub at x/h=0.5"},"y":{"field":"y","type":"quantitative","scale":{"domain":[-0.08,3.09],"nice":false,"zero":false},"axis":{"values":[0,0.5,1,1.5,2,2.5,3],"format":".1f"},"title":"y/h"}},
  "layer":[
  {"data":{"name":"zoom"},"transform":[{"filter":"datum.p == 0.5"}],"mark":{"type":"rect","fillOpacity":0,"stroke":"#aaaaaa","strokeWidth":0.8},"encoding":{"x2":{"field":"u1"},"y2":{"field":"y1"}}},
  {"data":{"name":"conn"},"transform":[{"filter":"datum.p == 0.5"}],"mark":{"type":"rule","stroke":"#aaaaaa","strokeWidth":0.8},"encoding":{"x2":{"field":"u1"},"y2":{"field":"y1"}}},
  {"data":{"name":"ref"},"transform":[{"filter":"datum.p == 0.5"},{"fold":["E"],"as":["s","u"]}],"mark":{"type":"line","strokeWidth":1.6},"encoding":{"color":{"field":"s","type":"nominal"},"strokeDash":{"field":"s","type":"nominal"},"order":{"field":"y","type":"quantitative"}}},
  {"data":{"name":"ref"},"transform":[{"filter":"datum.p == 0.5"},{"fold":["L"],"as":["s","u"]}],"mark":{"type":"line","strokeWidth":0.8},"encoding":{"color":{"field":"s","type":"nominal"},"strokeDash":{"field":"s","type":"nominal"},"order":{"field":"y","type":"quantitative"}}},
  {"data":{"name":"lethe"},"transform":[{"filter":"datum.m == 'C' && datum.p == 0.5"},{"fold":["a","b","c","d"],"as":["s","u"]}],"mark":{"type":"line","strokeWidth":1,"opacity":0.9},"encoding":{
    "color":{"field":"s","type":"nominal","scale":{"domain":["a","c","L","b","d","E"],"range":["#4070e8","#f03535","#444444","#95e035","#ff9040","#111111"]},"legend":{"title":null,"labelExpr":"datum.label == 'a' ? 'Lethe - Δt=0.1s' : datum.label == 'b' ? 'Lethe - Δt=0.05s' : datum.label == 'c' ? 'Lethe - Δt=0.025s' : datum.label == 'd' ? 'Lethe - Δt=0.0125s' : datum.label == 'L' ? 'LESOCC - Breuer 2009' : 'Experimental - Rapp 2009'"}},
    "strokeDash":{"field":"s","type":"nominal","scale":{"domain":["a","c","L","b","d","E"],"range":[[3,1.5],[3,1.5],[1,1.5],[3,1.5],[3,1.5],[1,0]]},"legend":{"title":null,"labelExpr":"datum.label == 'a' ? 'Lethe - Δt=0.1s' : datum.label == 'b' ? 'Lethe - Δt=0.05s' : datum.label == 'c' ? 'Lethe - Δt=0.025s' : datum.label == 'd' ? 'Lethe - Δt=0.0125s' : datum.label == 'L' ? 'LESOCC - Breuer 2009' : 'Experimental - Rapp 2009'"}},
    "order":{"field":"y","type":"quantitative"}}}
 ]},
 {"encoding":{"x":{"field":"u","type":"quantitative","scale":{"domain":[-0.22,0.1],"range":[6,30],"nice":false,"zero":false},"axis":null},"y":{"field":"y","type":"quantitative","scale":{"domain":[0.81,1.1],"range":[32,4.5],"nice":false,"zero":false},"axis":null}},
  "layer":[
  {"data":{"name":"zoom"},"transform":[{"filter":"datum.p == 0.5"}],"mark":{"type":"rect","fill":"white","stroke":"#333333","strokeWidth":1},"encoding":{"x2":{"field":"u1"},"y2":{"field":"y1"}}},
  {"data":{"name":"ref"},"transform":[{"filter":"datum.p == 0.5"},{"fold":["E"],"as":["s","u"]},{"filter":"datum.u >= -0.22 && datum.u <= 0.1 && datum.y >= 0.81 && datum.y <= 1.1"}],"mark":{"type":"line","strokeWidth":1.6},"encoding":{"color":{"field":"s","type":"nominal"},"strokeDash":{"field":"s","type":"nominal"},"order":{"field":"y","type":"quantitative"}}},
  {"data":{"name":"lethe"},"transform":[{"filter":"datum.m == 'C' && datum.p == 0.5"},{"fold":["a","b","c","d"],"as":["s","u"]},{"filter":"datum.u >= -0.22 && datum.u <= 0.1 && datum.y >= 0.81 && datum.y <= 1.1"}],"mark":{"type":"line","strokeWidth":1,"opacity":0.9},"encoding":{"color":{"field":"s","type":"nominal"},"strokeDash":{"field":"s","type":"nominal"},"order":{"field":"y","type":"quantitative"}}}
 ]}
]},
{"width":80,"height":92,"resolve":{"scale":{"x":"independent","y":"independent"}},"layer":[
 {"encoding":{"x":{"field":"u","type":"quantitative","scale":{"domain":[-0.29,1.27],"nice":false,"zero":false},"axis":{"values":[0,0.3,0.6,0.9,1.2],"format":".1f"},"title":"u/ub at x/h=2"},"y":{"field":"y","type":"quantitative","scale":{"domain":[-0.08,3.09],"nice":false,"zero":false},"axis":{"values":[0,0.5,1,1.5,2,2.5,3],"format":".1f"},"title":null}},
  "layer":[
  {"data":{"name":"zoom"},"transform":[{"filter":"datum.p == 2"}],"mark":{"type":"rect","fillOpacity":0,"stroke":"#aaaaaa","strokeWidth":0.8},"encoding":{"x2":{"field":"u1"},"y2":{"field":"y1"}}},
  {"data":{"name":"conn"},"transform":[{"filter":"datum.p == 2"}],"mark":{"type":"rule","stroke":"#aaaaaa","strokeWidth":0.8},"encoding":{"x2":{"field":"u1"},"y2":{"field":"y1"}}},
  {"data":{"name":"ref"},"transform":[{"filter":"datum.p == 2"},{"fold":["E"],"as":["s","u"]}],"mark":{"type":"line","strokeWidth":1.6},"encoding":{"color":{"field":"s","type":"nominal"},"strokeDash":{"field":"s","type":"nominal"},"order":{"field":"y","type":"quantitative"}}},
  {"data":{"name":"ref"},"transform":[{"filter":"datum.p == 2"},{"fold":["L"],"as":["s","u"]}],"mark":{"type":"line","strokeWidth":0.8},"encoding":{"color":{"field":"s","type":"nominal"},"strokeDash":{"field":"s","type":"nominal"},"order":{"field":"y","type":"quantitative"}}},
  {"data":{"name":"lethe"},"transform":[{"filter":"datum.m == 'C' && datum.p == 2"},{"fold":["a","b","c","d"],"as":["s","u"]}],"mark":{"type":"line","strokeWidth":1,"opacity":0.9},"encoding":{"color":{"field":"s","type":"nominal"},"strokeDash":{"field":"s","type":"nominal"},"order":{"field":"y","type":"quantitative"}}}
 ]},
 {"encoding":{"x":{"field":"u","type":"quantitative","scale":{"domain":[-0.28,0.0],"range":[5,30],"nice":false,"zero":false},"axis":null},"y":{"field":"y","type":"quantitative","scale":{"domain":[-0.03,0.29],"range":[32,4.5],"nice":false,"zero":false},"axis":null}},
  "layer":[
  {"data":{"name":"zoom"},"transform":[{"filter":"datum.p == 2"}],"mark":{"type":"rect","fill":"white","stroke":"#333333","strokeWidth":1},"encoding":{"x2":{"field":"u1"},"y2":{"field":"y1"}}},
  {"data":{"name":"ref"},"transform":[{"filter":"datum.p == 2"},{"fold":["E"],"as":["s","u"]},{"filter":"datum.u >= -0.28 && datum.u <= 0.0 && datum.y >= -0.03 && datum.y <= 0.29"}],"mark":{"type":"line","strokeWidth":1.6},"encoding":{"color":{"field":"s","type":"nominal"},"strokeDash":{"field":"s","type":"nominal"},"order":{"field":"y","type":"quantitative"}}},
  {"data":{"name":"lethe"},"transform":[{"filter":"datum.m == 'C' && datum.p == 2"},{"fold":["a","b","c","d"],"as":["s","u"]},{"filter":"datum.u >= -0.28 && datum.u <= 0.0 && datum.y >= -0.03 && datum.y <= 0.29"}],"mark":{"type":"line","strokeWidth":1,"opacity":0.9},"encoding":{"color":{"field":"s","type":"nominal"},"strokeDash":{"field":"s","type":"nominal"},"order":{"field":"y","type":"quantitative"}}}
 ]}
]},
{"width":80,"height":92,"resolve":{"scale":{"x":"independent","y":"independent"}},"layer":[
 {"encoding":{"x":{"field":"u","type":"quantitative","scale":{"domain":[-0.22,1.3],"nice":false,"zero":false},"axis":{"values":[0,0.3,0.6,0.9,1.2],"format":".1f"},"title":"u/ub at x/h=4"},"y":{"field":"y","type":"quantitative","scale":{"domain":[-0.08,3.09],"nice":false,"zero":false},"axis":{"values":[0,0.5,1,1.5,2,2.5,3],"format":".1f"},"title":null}},
  "layer":[
  {"data":{"name":"zoom"},"transform":[{"filter":"datum.p == 4"}],"mark":{"type":"rect","fillOpacity":0,"stroke":"#aaaaaa","strokeWidth":0.8},"encoding":{"x2":{"field":"u1"},"y2":{"field":"y1"}}},
  {"data":{"name":"conn"},"transform":[{"filter":"datum.p == 4"}],"mark":{"type":"rule","stroke":"#aaaaaa","strokeWidth":0.8},"encoding":{"x2":{"field":"u1"},"y2":{"field":"y1"}}},
  {"data":{"name":"ref"},"transform":[{"filter":"datum.p == 4"},{"fold":["E"],"as":["s","u"]}],"mark":{"type":"line","strokeWidth":1.6},"encoding":{"color":{"field":"s","type":"nominal"},"strokeDash":{"field":"s","type":"nominal"},"order":{"field":"y","type":"quantitative"}}},
  {"data":{"name":"ref"},"transform":[{"filter":"datum.p == 4"},{"fold":["L"],"as":["s","u"]}],"mark":{"type":"line","strokeWidth":0.8},"encoding":{"color":{"field":"s","type":"nominal"},"strokeDash":{"field":"s","type":"nominal"},"order":{"field":"y","type":"quantitative"}}},
  {"data":{"name":"lethe"},"transform":[{"filter":"datum.m == 'C' && datum.p == 4"},{"fold":["a","b","c","d"],"as":["s","u"]}],"mark":{"type":"line","strokeWidth":1,"opacity":0.9},"encoding":{"color":{"field":"s","type":"nominal"},"strokeDash":{"field":"s","type":"nominal"},"order":{"field":"y","type":"quantitative"}}}
 ]},
 {"encoding":{"x":{"field":"u","type":"quantitative","scale":{"domain":[-0.22,0.07],"range":[1,25],"nice":false,"zero":false},"axis":null},"y":{"field":"y","type":"quantitative","scale":{"domain":[0,0.29],"range":[32,4.5],"nice":false,"zero":false},"axis":null}},
  "layer":[
  {"data":{"name":"zoom"},"transform":[{"filter":"datum.p == 4"}],"mark":{"type":"rect","fill":"white","stroke":"#333333","strokeWidth":1},"encoding":{"x2":{"field":"u1"},"y2":{"field":"y1"}}},
  {"data":{"name":"ref"},"transform":[{"filter":"datum.p == 4"},{"fold":["E"],"as":["s","u"]},{"filter":"datum.u >= -0.22 && datum.u <= 0.07 && datum.y >= 0 && datum.y <= 0.29"}],"mark":{"type":"line","strokeWidth":1.6},"encoding":{"color":{"field":"s","type":"nominal"},"strokeDash":{"field":"s","type":"nominal"},"order":{"field":"y","type":"quantitative"}}},
  {"data":{"name":"lethe"},"transform":[{"filter":"datum.m == 'C' && datum.p == 4"},{"fold":["a","b","c","d"],"as":["s","u"]},{"filter":"datum.u >= -0.22 && datum.u <= 0.07 && datum.y >= 0 && datum.y <= 0.29"}],"mark":{"type":"line","strokeWidth":1,"opacity":0.9},"encoding":{"color":{"field":"s","type":"nominal"},"strokeDash":{"field":"s","type":"nominal"},"order":{"field":"y","type":"quantitative"}}}
 ]}
]},
{"width":80,"height":92,"resolve":{"scale":{"x":"independent","y":"independent"}},"layer":[
 {"encoding":{"x":{"field":"u","type":"quantitative","scale":{"domain":[-0.29,1.23],"nice":false,"zero":false},"axis":{"values":[0,0.3,0.6,0.9,1.2],"format":".1f"},"title":"u/ub at x/h=6"},"y":{"field":"y","type":"quantitative","scale":{"domain":[-0.08,3.09],"nice":false,"zero":false},"axis":{"values":[0,0.5,1,1.5,2,2.5,3],"format":".1f"},"title":null}},
  "layer":[
  {"data":{"name":"zoom"},"transform":[{"filter":"datum.p == 6"}],"mark":{"type":"rect","fillOpacity":0,"stroke":"#aaaaaa","strokeWidth":0.8},"encoding":{"x2":{"field":"u1"},"y2":{"field":"y1"}}},
  {"data":{"name":"conn"},"transform":[{"filter":"datum.p == 6"}],"mark":{"type":"rule","stroke":"#aaaaaa","strokeWidth":0.8},"encoding":{"x2":{"field":"u1"},"y2":{"field":"y1"}}},
  {"data":{"name":"ref"},"transform":[{"filter":"datum.p == 6"},{"fold":["E"],"as":["s","u"]}],"mark":{"type":"line","strokeWidth":1.6},"encoding":{"color":{"field":"s","type":"nominal"},"strokeDash":{"field":"s","type":"nominal"},"order":{"field":"y","type":"quantitative"}}},
  {"data":{"name":"ref"},"transform":[{"filter":"datum.p == 6"},{"fold":["L"],"as":["s","u"]}],"mark":{"type":"line","strokeWidth":0.8},"encoding":{"color":{"field":"s","type":"nominal"},"strokeDash":{"field":"s","type":"nominal"},"order":{"field":"y","type":"quantitative"}}},
  {"data":{"name":"lethe"},"transform":[{"filter":"datum.m == 'C' && datum.p == 6"},{"fold":["a","b","c","d"],"as":["s","u"]}],"mark":{"type":"line","strokeWidth":1,"opacity":0.9},"encoding":{"color":{"field":"s","type":"nominal"},"strokeDash":{"field":"s","type":"nominal"},"order":{"field":"y","type":"quantitative"}}}
 ]},
 {"encoding":{"x":{"field":"u","type":"quantitative","scale":{"domain":[-0.03,0.26],"range":[5,30],"nice":false,"zero":false},"axis":null},"y":{"field":"y","type":"quantitative","scale":{"domain":[0,0.29],"range":[32,4.5],"nice":false,"zero":false},"axis":null}},
  "layer":[
  {"data":{"name":"zoom"},"transform":[{"filter":"datum.p == 6"}],"mark":{"type":"rect","fill":"white","stroke":"#333333","strokeWidth":1},"encoding":{"x2":{"field":"u1"},"y2":{"field":"y1"}}},
  {"data":{"name":"ref"},"transform":[{"filter":"datum.p == 6"},{"fold":["E"],"as":["s","u"]},{"filter":"datum.u >= -0.03 && datum.u <= 0.26 && datum.y >= 0 && datum.y <= 0.29"}],"mark":{"type":"line","strokeWidth":1.6},"encoding":{"color":{"field":"s","type":"nominal"},"strokeDash":{"field":"s","type":"nominal"},"order":{"field":"y","type":"quantitative"}}},
  {"data":{"name":"lethe"},"transform":[{"filter":"datum.m == 'C' && datum.p == 6"},{"fold":["a","b","c","d"],"as":["s","u"]},{"filter":"datum.u >= -0.03 && datum.u <= 0.26 && datum.y >= 0 && datum.y <= 0.29"}],"mark":{"type":"line","strokeWidth":1,"opacity":0.9},"encoding":{"color":{"field":"s","type":"nominal"},"strokeDash":{"field":"s","type":"nominal"},"order":{"field":"y","type":"quantitative"}}}
 ]}
]}
]},
{"title": "R\u0332e\u0332g\u0332u\u0332l\u0332a\u0332r\u0332 \u0332(\u03321\u0332M\u0332)\u0332", "spacing": 30, "bounds": "flush", "hconcat": [
{"width":80,"height":92,"resolve":{"scale":{"x":"independent","y":"independent"}},"layer":[
 {"encoding":{"x":{"field":"u","type":"quantitative","scale":{"domain":[-0.31,1.3],"nice":false,"zero":false},"axis":{"values":[0,0.3,0.6,0.9,1.2],"format":".1f"},"title":"u/ub at x/h=0.5"},"y":{"field":"y","type":"quantitative","scale":{"domain":[-0.08,3.09],"nice":false,"zero":false},"axis":{"values":[0,0.5,1,1.5,2,2.5,3],"format":".1f"},"title":"y/h"}},
  "layer":[
  {"data":{"name":"zoom"},"transform":[{"filter":"datum.p == 0.5"}],"mark":{"type":"rect","fillOpacity":0,"stroke":"#aaaaaa","strokeWidth":0.8},"encoding":{"x2":{"field":"u1"},"y2":{"field":"y1"}}},
  {"data":{"name":"conn"},"transform":[{"filter":"datum.p == 0.5"}],"mark":{"type":"rule","stroke":"#aaaaaa","strokeWidth":0.8},"encoding":{"x2":{"field":"u1"},"y2":{"field":"y1"}}},
  {"data":{"name":"ref"},"transform":[{"filter":"datum.p == 0.5"},{"fold":["E"],"as":["s","u"]}],"mark":{"type":"line","strokeWidth":1.6},"encoding":{"color":{"field":"s","type":"nominal"},"strokeDash":{"field":"s","type":"nominal"},"order":{"field":"y","type":"quantitative"}}},
  {"data":{"name":"ref"},"transform":[{"filter":"datum.p == 0.5"},{"fold":["L"],"as":["s","u"]}],"mark":{"type":"line","strokeWidth":0.8},"encoding":{"color":{"field":"s","type":"nominal"},"strokeDash":{"field":"s","type":"nominal"},"order":{"field":"y","type":"quantitative"}}},
  {"data":{"name":"lethe"},"transform":[{"filter":"datum.m == 'R' && datum.p == 0.5"},{"fold":["a","b","c","d"],"as":["s","u"]}],"mark":{"type":"line","strokeWidth":1,"opacity":0.9},"encoding":{"color":{"field":"s","type":"nominal"},"strokeDash":{"field":"s","type":"nominal"},"order":{"field":"y","type":"quantitative"}}}
 ]},
 {"encoding":{"x":{"field":"u","type":"quantitative","scale":{"domain":[-0.22,0.1],"range":[6,30],"nice":false,"zero":false},"axis":null},"y":{"field":"y","type":"quantitative","scale":{"domain":[0.81,1.1],"range":[32,4.5],"nice":false,"zero":false},"axis":null}},
  "layer":[
  {"data":{"name":"zoom"},"transform":[{"filter":"datum.p == 0.5"}],"mark":{"type":"rect","fill":"white","stroke":"#333333","strokeWidth":1},"encoding":{"x2":{"field":"u1"},"y2":{"field":"y1"}}},
  {"data":{"name":"ref"},"transform":[{"filter":"datum.p == 0.5"},{"fold":["E"],"as":["s","u"]},{"filter":"datum.u >= -0.22 && datum.u <= 0.1 && datum.y >= 0.81 && datum.y <= 1.1"}],"mark":{"type":"line","strokeWidth":1.6},"encoding":{"color":{"field":"s","type":"nominal"},"strokeDash":{"field":"s","type":"nominal"},"order":{"field":"y","type":"quantitative"}}},
  {"data":{"name":"lethe"},"transform":[{"filter":"datum.m == 'R' && datum.p == 0.5"},{"fold":["a","b","c","d"],"as":["s","u"]},{"filter":"datum.u >= -0.22 && datum.u <= 0.1 && datum.y >= 0.81 && datum.y <= 1.1"}],"mark":{"type":"line","strokeWidth":1,"opacity":0.9},"encoding":{"color":{"field":"s","type":"nominal"},"strokeDash":{"field":"s","type":"nominal"},"order":{"field":"y","type":"quantitative"}}}
 ]}
]},
{"width":80,"height":92,"resolve":{"scale":{"x":"independent","y":"independent"}},"layer":[
 {"encoding":{"x":{"field":"u","type":"quantitative","scale":{"domain":[-0.29,1.27],"nice":false,"zero":false},"axis":{"values":[0,0.3,0.6,0.9,1.2],"format":".1f"},"title":"u/ub at x/h=2"},"y":{"field":"y","type":"quantitative","scale":{"domain":[-0.08,3.09],"nice":false,"zero":false},"axis":{"values":[0,0.5,1,1.5,2,2.5,3],"format":".1f"},"title":null}},
  "layer":[
  {"data":{"name":"zoom"},"transform":[{"filter":"datum.p == 2"}],"mark":{"type":"rect","fillOpacity":0,"stroke":"#aaaaaa","strokeWidth":0.8},"encoding":{"x2":{"field":"u1"},"y2":{"field":"y1"}}},
  {"data":{"name":"conn"},"transform":[{"filter":"datum.p == 2"}],"mark":{"type":"rule","stroke":"#aaaaaa","strokeWidth":0.8},"encoding":{"x2":{"field":"u1"},"y2":{"field":"y1"}}},
  {"data":{"name":"ref"},"transform":[{"filter":"datum.p == 2"},{"fold":["E"],"as":["s","u"]}],"mark":{"type":"line","strokeWidth":1.6},"encoding":{"color":{"field":"s","type":"nominal"},"strokeDash":{"field":"s","type":"nominal"},"order":{"field":"y","type":"quantitative"}}},
  {"data":{"name":"ref"},"transform":[{"filter":"datum.p == 2"},{"fold":["L"],"as":["s","u"]}],"mark":{"type":"line","strokeWidth":0.8},"encoding":{"color":{"field":"s","type":"nominal"},"strokeDash":{"field":"s","type":"nominal"},"order":{"field":"y","type":"quantitative"}}},
  {"data":{"name":"lethe"},"transform":[{"filter":"datum.m == 'R' && datum.p == 2"},{"fold":["a","b","c","d"],"as":["s","u"]}],"mark":{"type":"line","strokeWidth":1,"opacity":0.9},"encoding":{"color":{"field":"s","type":"nominal"},"strokeDash":{"field":"s","type":"nominal"},"order":{"field":"y","type":"quantitative"}}}
 ]},
 {"encoding":{"x":{"field":"u","type":"quantitative","scale":{"domain":[-0.28,0.0],"range":[5,30],"nice":false,"zero":false},"axis":null},"y":{"field":"y","type":"quantitative","scale":{"domain":[-0.03,0.29],"range":[32,4.5],"nice":false,"zero":false},"axis":null}},
  "layer":[
  {"data":{"name":"zoom"},"transform":[{"filter":"datum.p == 2"}],"mark":{"type":"rect","fill":"white","stroke":"#333333","strokeWidth":1},"encoding":{"x2":{"field":"u1"},"y2":{"field":"y1"}}},
  {"data":{"name":"ref"},"transform":[{"filter":"datum.p == 2"},{"fold":["E"],"as":["s","u"]},{"filter":"datum.u >= -0.28 && datum.u <= 0.0 && datum.y >= -0.03 && datum.y <= 0.29"}],"mark":{"type":"line","strokeWidth":1.6},"encoding":{"color":{"field":"s","type":"nominal"},"strokeDash":{"field":"s","type":"nominal"},"order":{"field":"y","type":"quantitative"}}},
  {"data":{"name":"lethe"},"transform":[{"filter":"datum.m == 'R' && datum.p == 2"},{"fold":["a","b","c","d"],"as":["s","u"]},{"filter":"datum.u >= -0.28 && datum.u <= 0.0 && datum.y >= -0.03 && datum.y <= 0.29"}],"mark":{"type":"line","strokeWidth":1,"opacity":0.9},"encoding":{"color":{"field":"s","type":"nominal"},"strokeDash":{"field":"s","type":"nominal"},"order":{"field":"y","type":"quantitative"}}}
 ]}
]},
{"width":80,"height":92,"resolve":{"scale":{"x":"independent","y":"independent"}},"layer":[
 {"encoding":{"x":{"field":"u","type":"quantitative","scale":{"domain":[-0.22,1.3],"nice":false,"zero":false},"axis":{"values":[0,0.3,0.6,0.9,1.2],"format":".1f"},"title":"u/ub at x/h=4"},"y":{"field":"y","type":"quantitative","scale":{"domain":[-0.08,3.09],"nice":false,"zero":false},"axis":{"values":[0,0.5,1,1.5,2,2.5,3],"format":".1f"},"title":null}},
  "layer":[
  {"data":{"name":"zoom"},"transform":[{"filter":"datum.p == 4"}],"mark":{"type":"rect","fillOpacity":0,"stroke":"#aaaaaa","strokeWidth":0.8},"encoding":{"x2":{"field":"u1"},"y2":{"field":"y1"}}},
  {"data":{"name":"conn"},"transform":[{"filter":"datum.p == 4"}],"mark":{"type":"rule","stroke":"#aaaaaa","strokeWidth":0.8},"encoding":{"x2":{"field":"u1"},"y2":{"field":"y1"}}},
  {"data":{"name":"ref"},"transform":[{"filter":"datum.p == 4"},{"fold":["E"],"as":["s","u"]}],"mark":{"type":"line","strokeWidth":1.6},"encoding":{"color":{"field":"s","type":"nominal"},"strokeDash":{"field":"s","type":"nominal"},"order":{"field":"y","type":"quantitative"}}},
  {"data":{"name":"ref"},"transform":[{"filter":"datum.p == 4"},{"fold":["L"],"as":["s","u"]}],"mark":{"type":"line","strokeWidth":0.8},"encoding":{"color":{"field":"s","type":"nominal"},"strokeDash":{"field":"s","type":"nominal"},"order":{"field":"y","type":"quantitative"}}},
  {"data":{"name":"lethe"},"transform":[{"filter":"datum.m == 'R' && datum.p == 4"},{"fold":["a","b","c","d"],"as":["s","u"]}],"mark":{"type":"line","strokeWidth":1,"opacity":0.9},"encoding":{"color":{"field":"s","type":"nominal"},"strokeDash":{"field":"s","type":"nominal"},"order":{"field":"y","type":"quantitative"}}}
 ]},
 {"encoding":{"x":{"field":"u","type":"quantitative","scale":{"domain":[-0.22,0.07],"range":[1,25],"nice":false,"zero":false},"axis":null},"y":{"field":"y","type":"quantitative","scale":{"domain":[0,0.29],"range":[32,4.5],"nice":false,"zero":false},"axis":null}},
  "layer":[
  {"data":{"name":"zoom"},"transform":[{"filter":"datum.p == 4"}],"mark":{"type":"rect","fill":"white","stroke":"#333333","strokeWidth":1},"encoding":{"x2":{"field":"u1"},"y2":{"field":"y1"}}},
  {"data":{"name":"ref"},"transform":[{"filter":"datum.p == 4"},{"fold":["E"],"as":["s","u"]},{"filter":"datum.u >= -0.22 && datum.u <= 0.07 && datum.y >= 0 && datum.y <= 0.29"}],"mark":{"type":"line","strokeWidth":1.6},"encoding":{"color":{"field":"s","type":"nominal"},"strokeDash":{"field":"s","type":"nominal"},"order":{"field":"y","type":"quantitative"}}},
  {"data":{"name":"lethe"},"transform":[{"filter":"datum.m == 'R' && datum.p == 4"},{"fold":["a","b","c","d"],"as":["s","u"]},{"filter":"datum.u >= -0.22 && datum.u <= 0.07 && datum.y >= 0 && datum.y <= 0.29"}],"mark":{"type":"line","strokeWidth":1,"opacity":0.9},"encoding":{"color":{"field":"s","type":"nominal"},"strokeDash":{"field":"s","type":"nominal"},"order":{"field":"y","type":"quantitative"}}}
 ]}
]},
{"width":80,"height":92,"resolve":{"scale":{"x":"independent","y":"independent"}},"layer":[
 {"encoding":{"x":{"field":"u","type":"quantitative","scale":{"domain":[-0.29,1.23],"nice":false,"zero":false},"axis":{"values":[0,0.3,0.6,0.9,1.2],"format":".1f"},"title":"u/ub at x/h=6"},"y":{"field":"y","type":"quantitative","scale":{"domain":[-0.08,3.09],"nice":false,"zero":false},"axis":{"values":[0,0.5,1,1.5,2,2.5,3],"format":".1f"},"title":null}},
  "layer":[
  {"data":{"name":"zoom"},"transform":[{"filter":"datum.p == 6"}],"mark":{"type":"rect","fillOpacity":0,"stroke":"#aaaaaa","strokeWidth":0.8},"encoding":{"x2":{"field":"u1"},"y2":{"field":"y1"}}},
  {"data":{"name":"conn"},"transform":[{"filter":"datum.p == 6"}],"mark":{"type":"rule","stroke":"#aaaaaa","strokeWidth":0.8},"encoding":{"x2":{"field":"u1"},"y2":{"field":"y1"}}},
  {"data":{"name":"ref"},"transform":[{"filter":"datum.p == 6"},{"fold":["E"],"as":["s","u"]}],"mark":{"type":"line","strokeWidth":1.6},"encoding":{"color":{"field":"s","type":"nominal"},"strokeDash":{"field":"s","type":"nominal"},"order":{"field":"y","type":"quantitative"}}},
  {"data":{"name":"ref"},"transform":[{"filter":"datum.p == 6"},{"fold":["L"],"as":["s","u"]}],"mark":{"type":"line","strokeWidth":0.8},"encoding":{"color":{"field":"s","type":"nominal"},"strokeDash":{"field":"s","type":"nominal"},"order":{"field":"y","type":"quantitative"}}},
  {"data":{"name":"lethe"},"transform":[{"filter":"datum.m == 'R' && datum.p == 6"},{"fold":["a","b","c","d"],"as":["s","u"]}],"mark":{"type":"line","strokeWidth":1,"opacity":0.9},"encoding":{"color":{"field":"s","type":"nominal"},"strokeDash":{"field":"s","type":"nominal"},"order":{"field":"y","type":"quantitative"}}}
 ]},
 {"encoding":{"x":{"field":"u","type":"quantitative","scale":{"domain":[-0.03,0.26],"range":[5,30],"nice":false,"zero":false},"axis":null},"y":{"field":"y","type":"quantitative","scale":{"domain":[0,0.29],"range":[32,4.5],"nice":false,"zero":false},"axis":null}},
  "layer":[
  {"data":{"name":"zoom"},"transform":[{"filter":"datum.p == 6"}],"mark":{"type":"rect","fill":"white","stroke":"#333333","strokeWidth":1},"encoding":{"x2":{"field":"u1"},"y2":{"field":"y1"}}},
  {"data":{"name":"ref"},"transform":[{"filter":"datum.p == 6"},{"fold":["E"],"as":["s","u"]},{"filter":"datum.u >= -0.03 && datum.u <= 0.26 && datum.y >= 0 && datum.y <= 0.29"}],"mark":{"type":"line","strokeWidth":1.6},"encoding":{"color":{"field":"s","type":"nominal"},"strokeDash":{"field":"s","type":"nominal"},"order":{"field":"y","type":"quantitative"}}},
  {"data":{"name":"lethe"},"transform":[{"filter":"datum.m == 'R' && datum.p == 6"},{"fold":["a","b","c","d"],"as":["s","u"]},{"filter":"datum.u >= -0.03 && datum.u <= 0.26 && datum.y >= 0 && datum.y <= 0.29"}],"mark":{"type":"line","strokeWidth":1,"opacity":0.9},"encoding":{"color":{"field":"s","type":"nominal"},"strokeDash":{"field":"s","type":"nominal"},"order":{"field":"y","type":"quantitative"}}}
 ]}
]}
]},
{"title": "F\u0332i\u0332n\u0332e\u0332 \u0332(\u03324\u0332M\u0332)\u0332", "spacing": 30, "bounds": "flush", "hconcat": [
{"width":80,"height":92,"resolve":{"scale":{"x":"independent","y":"independent"}},"layer":[
 {"encoding":{"x":{"field":"u","type":"quantitative","scale":{"domain":[-0.31,1.3],"nice":false,"zero":false},"axis":{"values":[0,0.3,0.6,0.9,1.2],"format":".1f"},"title":"u/ub at x/h=0.5"},"y":{"field":"y","type":"quantitative","scale":{"domain":[-0.08,3.09],"nice":false,"zero":false},"axis":{"values":[0,0.5,1,1.5,2,2.5,3],"format":".1f"},"title":"y/h"}},
  "layer":[
  {"data":{"name":"zoom"},"transform":[{"filter":"datum.p == 0.5"}],"mark":{"type":"rect","fillOpacity":0,"stroke":"#aaaaaa","strokeWidth":0.8},"encoding":{"x2":{"field":"u1"},"y2":{"field":"y1"}}},
  {"data":{"name":"conn"},"transform":[{"filter":"datum.p == 0.5"}],"mark":{"type":"rule","stroke":"#aaaaaa","strokeWidth":0.8},"encoding":{"x2":{"field":"u1"},"y2":{"field":"y1"}}},
  {"data":{"name":"ref"},"transform":[{"filter":"datum.p == 0.5"},{"fold":["E"],"as":["s","u"]}],"mark":{"type":"line","strokeWidth":1.6},"encoding":{"color":{"field":"s","type":"nominal"},"strokeDash":{"field":"s","type":"nominal"},"order":{"field":"y","type":"quantitative"}}},
  {"data":{"name":"ref"},"transform":[{"filter":"datum.p == 0.5"},{"fold":["L"],"as":["s","u"]}],"mark":{"type":"line","strokeWidth":0.8},"encoding":{"color":{"field":"s","type":"nominal"},"strokeDash":{"field":"s","type":"nominal"},"order":{"field":"y","type":"quantitative"}}},
  {"data":{"name":"lethe"},"transform":[{"filter":"datum.m == 'F' && datum.p == 0.5"},{"fold":["a","b","c","d"],"as":["s","u"]}],"mark":{"type":"line","strokeWidth":1,"opacity":0.9},"encoding":{"color":{"field":"s","type":"nominal"},"strokeDash":{"field":"s","type":"nominal"},"order":{"field":"y","type":"quantitative"}}}
 ]},
 {"encoding":{"x":{"field":"u","type":"quantitative","scale":{"domain":[-0.22,0.1],"range":[6,30],"nice":false,"zero":false},"axis":null},"y":{"field":"y","type":"quantitative","scale":{"domain":[0.81,1.1],"range":[32,4.5],"nice":false,"zero":false},"axis":null}},
  "layer":[
  {"data":{"name":"zoom"},"transform":[{"filter":"datum.p == 0.5"}],"mark":{"type":"rect","fill":"white","stroke":"#333333","strokeWidth":1},"encoding":{"x2":{"field":"u1"},"y2":{"field":"y1"}}},
  {"data":{"name":"ref"},"transform":[{"filter":"datum.p == 0.5"},{"fold":["E"],"as":["s","u"]},{"filter":"datum.u >= -0.22 && datum.u <= 0.1 && datum.y >= 0.81 && datum.y <= 1.1"}],"mark":{"type":"line","strokeWidth":1.6},"encoding":{"color":{"field":"s","type":"nominal"},"strokeDash":{"field":"s","type":"nominal"},"order":{"field":"y","type":"quantitative"}}},
  {"data":{"name":"lethe"},"transform":[{"filter":"datum.m == 'F' && datum.p == 0.5"},{"fold":["a","b","c","d"],"as":["s","u"]},{"filter":"datum.u >= -0.22 && datum.u <= 0.1 && datum.y >= 0.81 && datum.y <= 1.1"}],"mark":{"type":"line","strokeWidth":1,"opacity":0.9},"encoding":{"color":{"field":"s","type":"nominal"},"strokeDash":{"field":"s","type":"nominal"},"order":{"field":"y","type":"quantitative"}}}
 ]}
]},
{"width":80,"height":92,"resolve":{"scale":{"x":"independent","y":"independent"}},"layer":[
 {"encoding":{"x":{"field":"u","type":"quantitative","scale":{"domain":[-0.29,1.27],"nice":false,"zero":false},"axis":{"values":[0,0.3,0.6,0.9,1.2],"format":".1f"},"title":"u/ub at x/h=2"},"y":{"field":"y","type":"quantitative","scale":{"domain":[-0.08,3.09],"nice":false,"zero":false},"axis":{"values":[0,0.5,1,1.5,2,2.5,3],"format":".1f"},"title":null}},
  "layer":[
  {"data":{"name":"zoom"},"transform":[{"filter":"datum.p == 2"}],"mark":{"type":"rect","fillOpacity":0,"stroke":"#aaaaaa","strokeWidth":0.8},"encoding":{"x2":{"field":"u1"},"y2":{"field":"y1"}}},
  {"data":{"name":"conn"},"transform":[{"filter":"datum.p == 2"}],"mark":{"type":"rule","stroke":"#aaaaaa","strokeWidth":0.8},"encoding":{"x2":{"field":"u1"},"y2":{"field":"y1"}}},
  {"data":{"name":"ref"},"transform":[{"filter":"datum.p == 2"},{"fold":["E"],"as":["s","u"]}],"mark":{"type":"line","strokeWidth":1.6},"encoding":{"color":{"field":"s","type":"nominal"},"strokeDash":{"field":"s","type":"nominal"},"order":{"field":"y","type":"quantitative"}}},
  {"data":{"name":"ref"},"transform":[{"filter":"datum.p == 2"},{"fold":["L"],"as":["s","u"]}],"mark":{"type":"line","strokeWidth":0.8},"encoding":{"color":{"field":"s","type":"nominal"},"strokeDash":{"field":"s","type":"nominal"},"order":{"field":"y","type":"quantitative"}}},
  {"data":{"name":"lethe"},"transform":[{"filter":"datum.m == 'F' && datum.p == 2"},{"fold":["a","b","c","d"],"as":["s","u"]}],"mark":{"type":"line","strokeWidth":1,"opacity":0.9},"encoding":{"color":{"field":"s","type":"nominal"},"strokeDash":{"field":"s","type":"nominal"},"order":{"field":"y","type":"quantitative"}}}
 ]},
 {"encoding":{"x":{"field":"u","type":"quantitative","scale":{"domain":[-0.28,0.0],"range":[5,30],"nice":false,"zero":false},"axis":null},"y":{"field":"y","type":"quantitative","scale":{"domain":[-0.03,0.29],"range":[32,4.5],"nice":false,"zero":false},"axis":null}},
  "layer":[
  {"data":{"name":"zoom"},"transform":[{"filter":"datum.p == 2"}],"mark":{"type":"rect","fill":"white","stroke":"#333333","strokeWidth":1},"encoding":{"x2":{"field":"u1"},"y2":{"field":"y1"}}},
  {"data":{"name":"ref"},"transform":[{"filter":"datum.p == 2"},{"fold":["E"],"as":["s","u"]},{"filter":"datum.u >= -0.28 && datum.u <= 0.0 && datum.y >= -0.03 && datum.y <= 0.29"}],"mark":{"type":"line","strokeWidth":1.6},"encoding":{"color":{"field":"s","type":"nominal"},"strokeDash":{"field":"s","type":"nominal"},"order":{"field":"y","type":"quantitative"}}},
  {"data":{"name":"lethe"},"transform":[{"filter":"datum.m == 'F' && datum.p == 2"},{"fold":["a","b","c","d"],"as":["s","u"]},{"filter":"datum.u >= -0.28 && datum.u <= 0.0 && datum.y >= -0.03 && datum.y <= 0.29"}],"mark":{"type":"line","strokeWidth":1,"opacity":0.9},"encoding":{"color":{"field":"s","type":"nominal"},"strokeDash":{"field":"s","type":"nominal"},"order":{"field":"y","type":"quantitative"}}}
 ]}
]},
{"width":80,"height":92,"resolve":{"scale":{"x":"independent","y":"independent"}},"layer":[
 {"encoding":{"x":{"field":"u","type":"quantitative","scale":{"domain":[-0.22,1.3],"nice":false,"zero":false},"axis":{"values":[0,0.3,0.6,0.9,1.2],"format":".1f"},"title":"u/ub at x/h=4"},"y":{"field":"y","type":"quantitative","scale":{"domain":[-0.08,3.09],"nice":false,"zero":false},"axis":{"values":[0,0.5,1,1.5,2,2.5,3],"format":".1f"},"title":null}},
  "layer":[
  {"data":{"name":"zoom"},"transform":[{"filter":"datum.p == 4"}],"mark":{"type":"rect","fillOpacity":0,"stroke":"#aaaaaa","strokeWidth":0.8},"encoding":{"x2":{"field":"u1"},"y2":{"field":"y1"}}},
  {"data":{"name":"conn"},"transform":[{"filter":"datum.p == 4"}],"mark":{"type":"rule","stroke":"#aaaaaa","strokeWidth":0.8},"encoding":{"x2":{"field":"u1"},"y2":{"field":"y1"}}},
  {"data":{"name":"ref"},"transform":[{"filter":"datum.p == 4"},{"fold":["E"],"as":["s","u"]}],"mark":{"type":"line","strokeWidth":1.6},"encoding":{"color":{"field":"s","type":"nominal"},"strokeDash":{"field":"s","type":"nominal"},"order":{"field":"y","type":"quantitative"}}},
  {"data":{"name":"ref"},"transform":[{"filter":"datum.p == 4"},{"fold":["L"],"as":["s","u"]}],"mark":{"type":"line","strokeWidth":0.8},"encoding":{"color":{"field":"s","type":"nominal"},"strokeDash":{"field":"s","type":"nominal"},"order":{"field":"y","type":"quantitative"}}},
  {"data":{"name":"lethe"},"transform":[{"filter":"datum.m == 'F' && datum.p == 4"},{"fold":["a","b","c","d"],"as":["s","u"]}],"mark":{"type":"line","strokeWidth":1,"opacity":0.9},"encoding":{"color":{"field":"s","type":"nominal"},"strokeDash":{"field":"s","type":"nominal"},"order":{"field":"y","type":"quantitative"}}}
 ]},
 {"encoding":{"x":{"field":"u","type":"quantitative","scale":{"domain":[-0.22,0.07],"range":[1,25],"nice":false,"zero":false},"axis":null},"y":{"field":"y","type":"quantitative","scale":{"domain":[0,0.29],"range":[32,4.5],"nice":false,"zero":false},"axis":null}},
  "layer":[
  {"data":{"name":"zoom"},"transform":[{"filter":"datum.p == 4"}],"mark":{"type":"rect","fill":"white","stroke":"#333333","strokeWidth":1},"encoding":{"x2":{"field":"u1"},"y2":{"field":"y1"}}},
  {"data":{"name":"ref"},"transform":[{"filter":"datum.p == 4"},{"fold":["E"],"as":["s","u"]},{"filter":"datum.u >= -0.22 && datum.u <= 0.07 && datum.y >= 0 && datum.y <= 0.29"}],"mark":{"type":"line","strokeWidth":1.6},"encoding":{"color":{"field":"s","type":"nominal"},"strokeDash":{"field":"s","type":"nominal"},"order":{"field":"y","type":"quantitative"}}},
  {"data":{"name":"lethe"},"transform":[{"filter":"datum.m == 'F' && datum.p == 4"},{"fold":["a","b","c","d"],"as":["s","u"]},{"filter":"datum.u >= -0.22 && datum.u <= 0.07 && datum.y >= 0 && datum.y <= 0.29"}],"mark":{"type":"line","strokeWidth":1,"opacity":0.9},"encoding":{"color":{"field":"s","type":"nominal"},"strokeDash":{"field":"s","type":"nominal"},"order":{"field":"y","type":"quantitative"}}}
 ]}
]},
{"width":80,"height":92,"resolve":{"scale":{"x":"independent","y":"independent"}},"layer":[
 {"encoding":{"x":{"field":"u","type":"quantitative","scale":{"domain":[-0.29,1.23],"nice":false,"zero":false},"axis":{"values":[0,0.3,0.6,0.9,1.2],"format":".1f"},"title":"u/ub at x/h=6"},"y":{"field":"y","type":"quantitative","scale":{"domain":[-0.08,3.09],"nice":false,"zero":false},"axis":{"values":[0,0.5,1,1.5,2,2.5,3],"format":".1f"},"title":null}},
  "layer":[
  {"data":{"name":"zoom"},"transform":[{"filter":"datum.p == 6"}],"mark":{"type":"rect","fillOpacity":0,"stroke":"#aaaaaa","strokeWidth":0.8},"encoding":{"x2":{"field":"u1"},"y2":{"field":"y1"}}},
  {"data":{"name":"conn"},"transform":[{"filter":"datum.p == 6"}],"mark":{"type":"rule","stroke":"#aaaaaa","strokeWidth":0.8},"encoding":{"x2":{"field":"u1"},"y2":{"field":"y1"}}},
  {"data":{"name":"ref"},"transform":[{"filter":"datum.p == 6"},{"fold":["E"],"as":["s","u"]}],"mark":{"type":"line","strokeWidth":1.6},"encoding":{"color":{"field":"s","type":"nominal"},"strokeDash":{"field":"s","type":"nominal"},"order":{"field":"y","type":"quantitative"}}},
  {"data":{"name":"ref"},"transform":[{"filter":"datum.p == 6"},{"fold":["L"],"as":["s","u"]}],"mark":{"type":"line","strokeWidth":0.8},"encoding":{"color":{"field":"s","type":"nominal"},"strokeDash":{"field":"s","type":"nominal"},"order":{"field":"y","type":"quantitative"}}},
  {"data":{"name":"lethe"},"transform":[{"filter":"datum.m == 'F' && datum.p == 6"},{"fold":["a","b","c","d"],"as":["s","u"]}],"mark":{"type":"line","strokeWidth":1,"opacity":0.9},"encoding":{"color":{"field":"s","type":"nominal"},"strokeDash":{"field":"s","type":"nominal"},"order":{"field":"y","type":"quantitative"}}}
 ]},
 {"encoding":{"x":{"field":"u","type":"quantitative","scale":{"domain":[-0.03,0.26],"range":[5,30],"nice":false,"zero":false},"axis":null},"y":{"field":"y","type":"quantitative","scale":{"domain":[0,0.29],"range":[32,4.5],"nice":false,"zero":false},"axis":null}},
  "layer":[
  {"data":{"name":"zoom"},"transform":[{"filter":"datum.p == 6"}],"mark":{"type":"rect","fill":"white","stroke":"#333333","strokeWidth":1},"encoding":{"x2":{"field":"u1"},"y2":{"field":"y1"}}},
  {"data":{"name":"ref"},"transform":[{"filter":"datum.p == 6"},{"fold":["E"],"as":["s","u"]},{"filter":"datum.u >= -0.03 && datum.u <= 0.26 && datum.y >= 0 && datum.y <= 0.29"}],"mark":{"type":"line","strokeWidth":1.6},"encoding":{"color":{"field":"s","type":"nominal"},"strokeDash":{"field":"s","type":"nominal"},"order":{"field":"y","type":"quantitative"}}},
  {"data":{"name":"lethe"},"transform":[{"filter":"datum.m == 'F' && datum.p == 6"},{"fold":["a","b","c","d"],"as":["s","u"]},{"filter":"datum.u >= -0.03 && datum.u <= 0.26 && datum.y >= 0 && datum.y <= 0.29"}],"mark":{"type":"line","strokeWidth":1,"opacity":0.9},"encoding":{"color":{"field":"s","type":"nominal"},"strokeDash":{"field":"s","type":"nominal"},"order":{"field":"y","type":"quantitative"}}}
 ]}
]}
]}
],
"config": {
"font": "Liberation Serif",
"view": {"stroke": "#333333", "strokeWidth": 1},
"axis": {"labelFont": "Liberation Serif", "labelFontSize": 10, "labelColor": "#222222", "titleFont": "Liberation Serif", "titleFontSize": 10, "titleFontWeight": "normal", "titleColor": "#222222", "grid": false, "domain": false, "tickColor": "#333333", "tickSize": 3, "labelPadding": 1, "titlePadding": 2, "labelOverlap": false, "labelFlush": false},
"axisY": {"titleFontStyle": "italic"},
"title": {"font": "Liberation Serif", "fontSize": 12.5, "fontWeight": "bold", "anchor": "start", "color": "#111111", "offset": 8, "dx": 3},
"legend": {"orient": "bottom", "columns": 3, "symbolType": "M-1.4,0H1.4", "symbolSize": 169, "symbolStrokeWidth": 1.4, "labelFont": "Liberation Serif", "labelFontSize": 9.5, "labelColor": "#222222", "strokeColor": "#555555", "padding": 3, "columnPadding": 24, "rowPadding": 1, "offset": 14, "labelOffset": 9, "layout": {"bottom": {"anchor": "middle"}}}
}
}
